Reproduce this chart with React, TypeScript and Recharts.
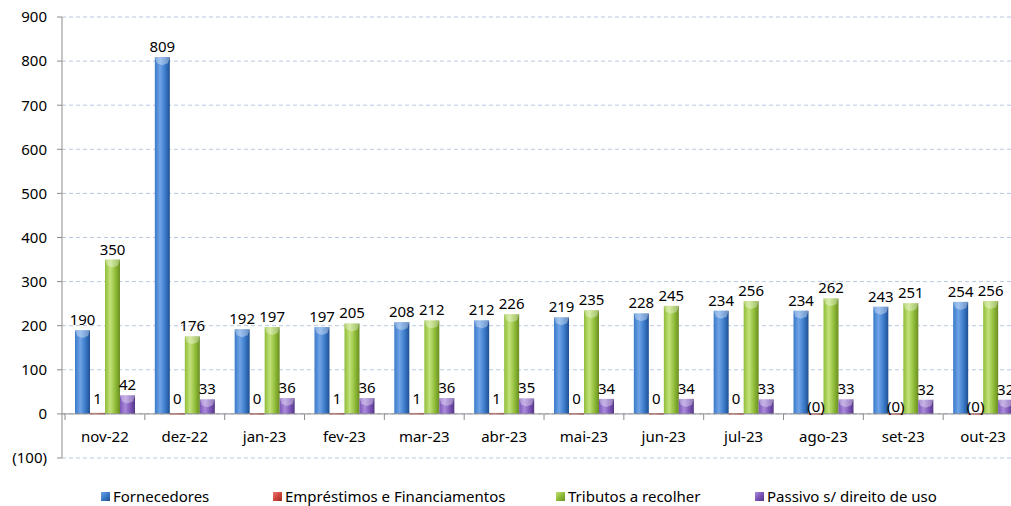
import React from "react";
import {
  BarChart,
  Bar,
  XAxis,
  YAxis,
  CartesianGrid,
  ReferenceLine,
  LabelList,
} from "recharts";

const months = [
  "nov-22", "dez-22", "jan-23", "fev-23", "mar-23", "abr-23",
  "mai-23", "jun-23", "jul-23", "ago-23", "set-23", "out-23",
];
const fornecedores = [190, 809, 192, 197, 208, 212, 219, 228, 234, 234, 243, 254];
const emprestimos = [1.2, 0.4, 0.3, 0.8, 0.9, 1.1, 0.4, 0.3, 0.2, -0.2, -0.3, -0.2];
const tributos = [350, 176, 197, 205, 212, 226, 235, 245, 256, 262, 251, 256];
const passivo = [42, 33, 36, 36, 36, 35, 34, 34, 33, 33, 32, 32];
const yTicks = [-100, 0, 100, 200, 300, 400, 500, 600, 700, 800, 900];

const series = [
  { key: "forn", name: "Fornecedores", dark: "#1F4F91", mid: "#3A7AC9", light: "#6FA3E6" },
  { key: "emp", name: "Empréstimos e Financiamentos", dark: "#9C2A22", mid: "#D0463C", light: "#EA7A70" },
  { key: "trib", name: "Tributos a recolher", dark: "#6A8E22", mid: "#8FBC38", light: "#C2E27A" },
  { key: "pass", name: "Passivo s/ direito de uso", dark: "#553686", mid: "#7D56B8", light: "#A98BDA" },
];

const data = months.map((m, i) => ({
  month: m,
  forn: fornecedores[i],
  emp: emprestimos[i],
  trib: tributos[i],
  pass: passivo[i],
}));

const FONT = "'Noto Sans', 'Open Sans', sans-serif";
const FS = 15;
const fmt = (v: number) => {
  const r = Math.round(Math.abs(v));
  return v < 0 ? `(${r})` : `${r}`;
};

function Bar3D(props: any) {
  const { x, y, width, height, fill } = props;
  if (!width) return null;
  let h = Math.abs(height);
  let top = height < 0 ? y + height : y;
  if (h < 1.5) {
    // keep near-zero bars visible as a thin line
    top = top + h / 2 - 0.75;
    h = 1.5;
  }
  const cap = Math.min(6, h / 2);
  return (
    <g>
      <rect x={x} y={top} width={width} height={h} fill={fill} />
      {h > 8 && (
        <polygon
          points={`${x},${top} ${x + width},${top} ${x + width - 2},${top + cap} ${x + width / 2},${top + cap + 2} ${x + 2},${top + cap}`}
          fill="rgba(255,255,255,0.35)"
        />
      )}
    </g>
  );
}

function CategoryTick(props: any) {
  const { x, payload, index } = props;
  const band = 79.8;
  const zeroY = 414;
  return (
    <g>
      <line x1={x - band / 2} x2={x - band / 2} y1={zeroY} y2={zeroY + 6} stroke="#8C8C8C" />
      {index === months.length - 1 && (
        <line x1={x + band / 2} x2={x + band / 2} y1={zeroY} y2={zeroY + 6} stroke="#8C8C8C" />
      )}
      <text x={x} y={zeroY + 22} textAnchor="middle" dominantBaseline="central" fontSize={FS} fontFamily={FONT} fill="#000">
        {payload.value}
      </text>
    </g>
  );
}

function EmpLabel(props: any) {
  const { x, y, width, height, value } = props;
  const neg = value < 0;
  const base = neg ? y : y + height;
  return (
    <text
      x={x + width / 2}
      y={neg ? base - 8 : base - 16}
      textAnchor="middle"
      dominantBaseline="central"
      fontSize={FS}
      fontFamily={FONT}
      fill="#000"
    >
      {fmt(value)}
    </text>
  );
}

const labelStyle = { fontSize: FS, fill: "#000", fontFamily: FONT };

export default function App() {
  return (
    <div
      style={{
        position: "fixed",
        left: 0,
        top: 0,
        width: 1011,
        height: 506,
        overflow: "hidden",
        background: "#fff",
        fontFamily: FONT,
      }}
    >
      <BarChart
        width={1023}
        height={506}
        data={data}
        margin={{ top: 17, right: 0, bottom: 0, left: 0 }}
        barCategoryGap="10%"
        barGap={0}
      >
        <defs>
          {series.map((s) => (
            <linearGradient key={s.key} id={`g-${s.key}`} x1="0" y1="0" x2="1" y2="0">
              <stop offset="0%" stopColor={s.mid} />
              <stop offset="35%" stopColor={s.light} />
              <stop offset="70%" stopColor={s.mid} />
              <stop offset="100%" stopColor={s.dark} />
            </linearGradient>
          ))}
        </defs>
        <CartesianGrid vertical={false} stroke="#B8C8E0" strokeDasharray="4 3" />
        <XAxis
          dataKey="month"
          axisLine={false}
          tickLine={false}
          tick={<CategoryTick />}
          interval={0}
          height={48}
          padding={{ left: 3, right: 0 }}
        />
        <YAxis
          domain={[-100, 900]}
          ticks={yTicks}
          interval={0}
          width={62}
          axisLine={{ stroke: "#8C8C8C" }}
          tickLine={{ stroke: "#8C8C8C" }}
          tickSize={5}
          tickMargin={10}
          tickFormatter={fmt}
          tick={labelStyle}
        />
        <ReferenceLine y={0} stroke="#8C8C8C" />
        <Bar dataKey="forn" name="Fornecedores" barSize={15} fill="url(#g-forn)" shape={<Bar3D />} isAnimationActive={false}>
          <LabelList dataKey="forn" position="top" offset={5} formatter={fmt} style={labelStyle} />
        </Bar>
        <Bar dataKey="emp" name="Empréstimos e Financiamentos" barSize={15} fill="url(#g-emp)" shape={<Bar3D />} isAnimationActive={false}>
          <LabelList dataKey="emp" content={<EmpLabel />} />
        </Bar>
        <Bar dataKey="trib" name="Tributos a recolher" barSize={15} fill="url(#g-trib)" shape={<Bar3D />} isAnimationActive={false}>
          <LabelList dataKey="trib" position="top" offset={5} formatter={fmt} style={labelStyle} />
        </Bar>
        <Bar dataKey="pass" name="Passivo s/ direito de uso" barSize={15} fill="url(#g-pass)" shape={<Bar3D />} isAnimationActive={false}>
          <LabelList dataKey="pass" position="top" offset={5} formatter={fmt} style={labelStyle} />
        </Bar>
      </BarChart>
      <div style={{ position: "absolute", top: 486, left: 0, width: 1011, height: 20 }}>
        {series.map((s, i) => (
          <div
            key={s.key}
            style={{
              position: "absolute",
              left: [101, 273, 556, 755][i],
              top: 0,
              display: "flex",
              alignItems: "center",
              fontSize: FS,
              whiteSpace: "nowrap",
              color: "#000",
            }}
          >
            <span
              style={{
                display: "inline-block",
                width: 9,
                height: 9,
                marginRight: 3,
                background: `linear-gradient(135deg, ${s.light}, ${s.mid} 50%, ${s.dark})`,
              }}
            />
            {s.name}
          </div>
        ))}
      </div>
    </div>
  );
}
